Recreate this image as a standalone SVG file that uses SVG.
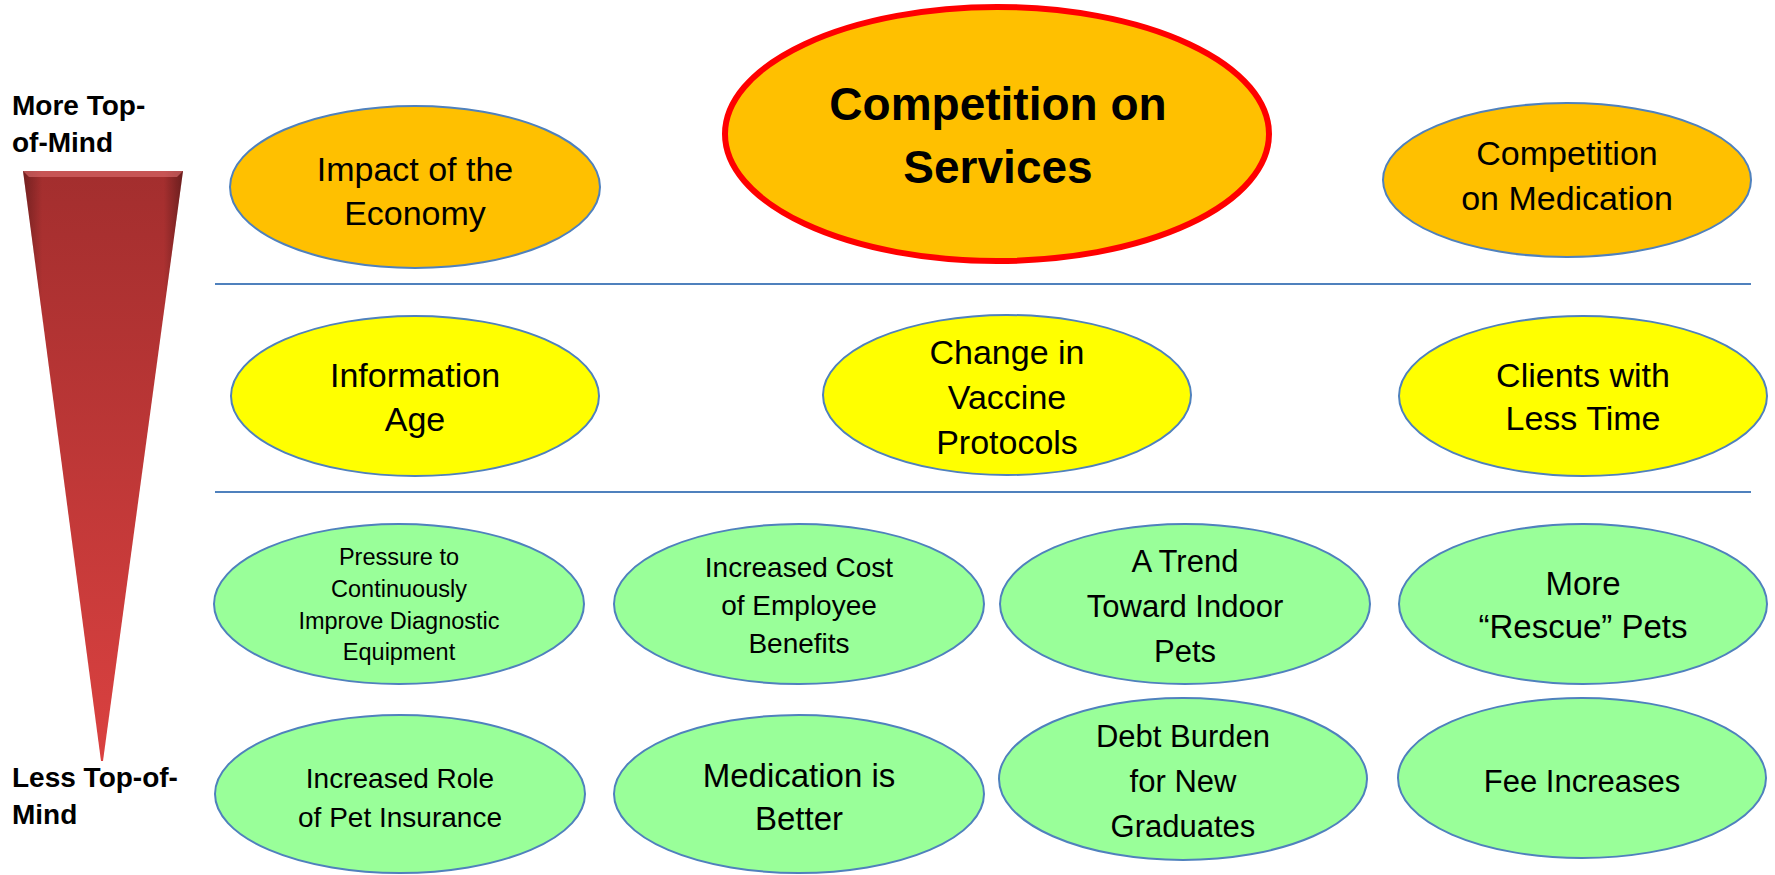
<svg xmlns="http://www.w3.org/2000/svg" width="1775" height="875" viewBox="0 0 1775 875">
<style>
.t{font-family:"Liberation Sans",Arial,sans-serif;fill:#000;text-anchor:middle}
.lbl{font-family:"Liberation Sans",Arial,sans-serif;font-weight:bold;font-size:28px;fill:#000}
.node{stroke:#4F81BD;stroke-width:2}
.or{fill:#FFC000}
.ye{fill:#FFFF00}
.gr{fill:#99FF99}
.sep{stroke:#4F81BD;stroke-width:2;fill:none}
</style>
<defs>
<linearGradient id="tv" x1="0" y1="0" x2="0" y2="1">
<stop offset="0" stop-color="#A32E2E"/>
<stop offset="1" stop-color="#DA4140"/>
</linearGradient>
<linearGradient id="th" x1="0" y1="0" x2="1" y2="0">
<stop offset="0" stop-color="#000" stop-opacity="0.3"/>
<stop offset="0.12" stop-color="#000" stop-opacity="0"/>
<stop offset="0.88" stop-color="#000" stop-opacity="0"/>
<stop offset="1" stop-color="#000" stop-opacity="0.35"/>
</linearGradient>
</defs>
<rect width="1775" height="875" fill="#fff"/>
<g id="axis">
<polygon points="23,171 183,171 103,761 101,761" fill="url(#tv)"/>
<polygon points="23,171 183,171 103,761 101,761" fill="url(#th)"/>
<polygon points="23,171 183,171 177,177 29,177" fill="#E07070" opacity="0.6"/>
<text class="lbl" x="12" y="115">More Top-</text>
<text class="lbl" x="12" y="152">of-Mind</text>
<text class="lbl" x="12" y="787">Less Top-of-</text>
<text class="lbl" x="12" y="824">Mind</text>
</g>
<g id="connectors">
<line class="sep" x1="215" y1="284" x2="1751" y2="284"/>
<line class="sep" x1="215" y1="492" x2="1751" y2="492"/>
</g>
<g id="impact">
<ellipse class="node or" cx="415" cy="187" rx="185" ry="81"/>
<text class="t" font-size="34" x="415" y="181">Impact of the</text>
<text class="t" font-size="34" x="415" y="225">Economy</text>
</g>
<g id="services">
<ellipse cx="997" cy="134" rx="272" ry="127" fill="#FFC000" stroke="#FF0000" stroke-width="6"/>
<text class="t" font-size="46" font-weight="bold" x="998" y="120">Competition on</text>
<text class="t" font-size="46" font-weight="bold" x="998" y="183">Services</text>
</g>
<g id="medication">
<ellipse class="node or" cx="1567" cy="180" rx="184" ry="77"/>
<text class="t" font-size="34" x="1567" y="165">Competition</text>
<text class="t" font-size="34" x="1567" y="210">on Medication</text>
</g>
<g id="information">
<ellipse class="node ye" cx="415" cy="396" rx="184" ry="80"/>
<text class="t" font-size="34" x="415" y="387">Information</text>
<text class="t" font-size="34" x="415" y="431">Age</text>
</g>
<g id="vaccine">
<ellipse class="node ye" cx="1007" cy="395" rx="184" ry="80"/>
<text class="t" font-size="34" x="1007" y="364">Change in</text>
<text class="t" font-size="34" x="1007" y="409">Vaccine</text>
<text class="t" font-size="34" x="1007" y="454">Protocols</text>
</g>
<g id="clients">
<ellipse class="node ye" cx="1583" cy="396" rx="184" ry="80"/>
<text class="t" font-size="34" x="1583" y="387">Clients with</text>
<text class="t" font-size="34" x="1583" y="430">Less Time</text>
</g>
<g id="pressure">
<ellipse class="node gr" cx="399" cy="604" rx="185" ry="80"/>
<text class="t" font-size="23.5" x="399" y="565">Pressure to</text>
<text class="t" font-size="23.5" x="399" y="597">Continuously</text>
<text class="t" font-size="23.5" x="399" y="629">Improve Diagnostic</text>
<text class="t" font-size="23.5" x="399" y="660">Equipment</text>
</g>
<g id="cost">
<ellipse class="node gr" cx="799" cy="604" rx="185" ry="80"/>
<text class="t" font-size="28" x="799" y="577">Increased Cost</text>
<text class="t" font-size="28" x="799" y="615">of Employee</text>
<text class="t" font-size="28" x="799" y="653">Benefits</text>
</g>
<g id="trend">
<ellipse class="node gr" cx="1185" cy="604" rx="185" ry="80"/>
<text class="t" font-size="31" x="1185" y="572">A Trend</text>
<text class="t" font-size="31" x="1185" y="617">Toward Indoor</text>
<text class="t" font-size="31" x="1185" y="662">Pets</text>
</g>
<g id="rescue">
<ellipse class="node gr" cx="1583" cy="604" rx="184" ry="80"/>
<text class="t" font-size="33" x="1583" y="595">More</text>
<text class="t" font-size="33" x="1583" y="638">“Rescue” Pets</text>
</g>
<g id="insurance">
<ellipse class="node gr" cx="400" cy="794" rx="185" ry="79"/>
<text class="t" font-size="28" x="400" y="788">Increased Role</text>
<text class="t" font-size="28" x="400" y="827">of Pet Insurance</text>
</g>
<g id="better">
<ellipse class="node gr" cx="799" cy="794" rx="185" ry="79"/>
<text class="t" font-size="33" x="799" y="787">Medication is</text>
<text class="t" font-size="33" x="799" y="830">Better</text>
</g>
<g id="debt">
<ellipse class="node gr" cx="1183" cy="779" rx="184" ry="81"/>
<text class="t" font-size="31" x="1183" y="747">Debt Burden</text>
<text class="t" font-size="31" x="1183" y="792">for New</text>
<text class="t" font-size="31" x="1183" y="837">Graduates</text>
</g>
<g id="fee">
<ellipse class="node gr" cx="1582" cy="778" rx="184" ry="80"/>
<text class="t" font-size="31" x="1582" y="792">Fee Increases</text>
</g>
</svg>
